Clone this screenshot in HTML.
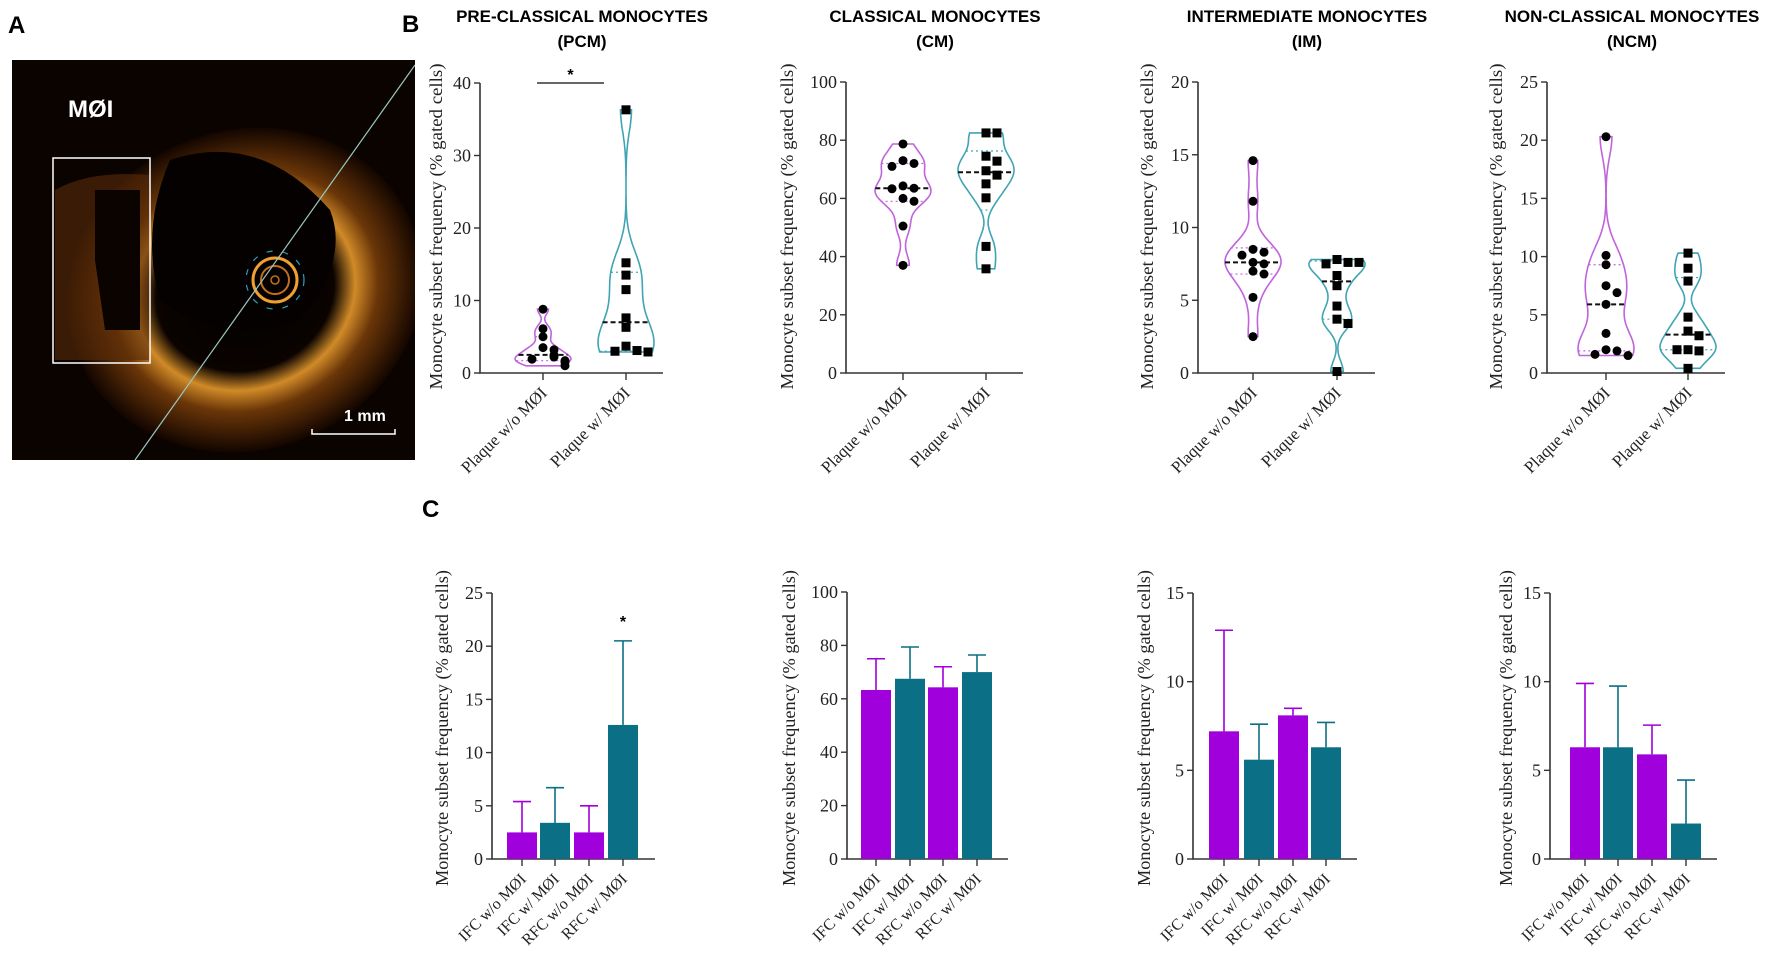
<!DOCTYPE html>
<html><head><meta charset="utf-8"><style>
html,body{margin:0;padding:0;background:#fff;}
svg{display:block;}
.lbl{font-family:"Liberation Sans",sans-serif;font-weight:bold;}
.ser{font-family:"Liberation Serif",serif;fill:#222;}
</style></head><body>
<svg id="fig" width="1772" height="956" viewBox="0 0 1772 956" xmlns="http://www.w3.org/2000/svg">
<defs>
<radialGradient id="ring" cx="0.5" cy="0.5" r="0.5">
<stop offset="0" stop-color="#000"/>
<stop offset="0.5" stop-color="#0a0300"/>
<stop offset="0.62" stop-color="#d08a28"/>
<stop offset="0.75" stop-color="#6a3608"/>
<stop offset="1" stop-color="#120500"/>
</radialGradient>
<clipPath id="clipA"><rect x="12" y="60" width="403" height="400"/></clipPath>
</defs>
<g clip-path="url(#clipA)">
<rect x="12" y="60" width="403" height="400" fill="#0a0300"/>
<ellipse cx="245" cy="290" rx="180" ry="160" fill="url(#ring)" transform="rotate(-20 245 290)"/>
<path d="M170 160 Q260 130 330 210 Q350 260 300 320 Q220 345 160 300 Q140 230 170 160Z" fill="#050100"/>
<path d="M55 190 Q90 170 150 175 L150 360 L55 360Z" fill="#5a2c08" opacity="0.6"/>
<path d="M95 190 L140 190 L140 330 L105 330 L95 260Z" fill="#0a0300"/>
<circle cx="275" cy="280" r="22" fill="none" stroke="#f0a030" stroke-width="3"/>
<circle cx="275" cy="280" r="14" fill="none" stroke="#c07020" stroke-width="2"/>
<circle cx="275" cy="280" r="4" fill="none" stroke="#c07020" stroke-width="1.5"/>
<circle cx="275" cy="280" r="29" fill="none" stroke="#2aa0c0" stroke-width="1.2" stroke-dasharray="6 10"/>
<line x1="415" y1="65" x2="135" y2="460" stroke="#9ac8c0" stroke-width="1.2"/>
<rect x="53" y="158" width="97" height="205" fill="none" stroke="#fff" stroke-width="1.5"/>
<text x="68" y="117" class="lbl" font-size="24" fill="#fff">MØI</text>
<text x="344" y="421" class="lbl" font-size="16" fill="#fff">1 mm</text>
<path d="M312 429 V434 H395 V429" fill="none" stroke="#fff" stroke-width="1.5"/>
</g>
<text x="8" y="33" class="lbl" font-size="24">A</text>
<text x="402" y="32" class="lbl" font-size="24">B</text>
<text x="422" y="517" class="lbl" font-size="24">C</text>
<g id="charts"></g>
</svg>
<script>
// ---------- data ----------
const violinCats = ["Plaque w/o MØI", "Plaque w/ MØI"];
const barCats = ["IFC w/o MØI", "IFC w/ MØI", "RFC w/o MØI", "RFC w/ MØI"];
const pcmTicks = [0, 10, 20, 30, 40];
const cmTicks = [0, 20, 40, 60, 80, 100];
const imTicks = [0, 5, 10, 15, 20];
const ncmTicks = [0, 5, 10, 15, 20, 25];
const pcmWithout = [8.8, 6.1, 5.0, 3.5, 3.2, 2.5, 2.2, 1.9, 1.7, 1.5, 1.0];
const pcmWith = [36.3, 15.2, 13.5, 11.5, 7.6, 6.3, 3.7, 3.1, 3.0, 2.9];
const cmWithout = [78.7, 73.0, 72.0, 71.0, 64.3, 63.5, 63.3, 60.0, 59.0, 50.5, 37.0];
const cmWith = [82.5, 82.5, 74.5, 72.8, 69.5, 68.0, 65.0, 60.2, 43.5, 35.8];
const imWithout = [14.6, 11.8, 8.5, 8.3, 8.1, 7.6, 7.5, 7.0, 6.8, 5.2, 2.5];
const imWith = [7.8, 7.6, 7.5, 7.6, 6.7, 6.0, 4.6, 3.7, 3.4, 0.1];
const ncmWithout = [20.3, 10.1, 9.3, 7.5, 6.9, 5.9, 3.4, 2.0, 1.9, 1.6, 1.5];
const ncmWith = [10.3, 9.0, 7.9, 4.8, 3.6, 3.2, 2.0, 1.9, 2.0, 0.4];
// [median, q1, q3] per group
const pcmStats = [[2.5, 1.7, 5.0], [7.0, 3.0, 13.9]];
const cmStats = [[63.5, 59.0, 72.0], [69.0, 56.0, 76.3]];
const imStats = [[7.6, 6.8, 8.6], [6.3, 3.7, 7.7]];
const ncmStats = [[5.9, 1.9, 9.3], [3.3, 2.0, 8.2]];
// bar chart means and SD tops
const pcmBarTicks = [0, 5, 10, 15, 20, 25];
const cmBarTicks = [0, 20, 40, 60, 80, 100];
const imBarTicks = [0, 5, 10, 15];
const ncmBarTicks = [0, 5, 10, 15];
const pcmMeans = [2.5, 3.4, 2.5, 12.6];
const pcmErrTop = [5.4, 6.7, 5.0, 20.5];
const cmMeans = [63.3, 67.5, 64.3, 70.0];
const cmErrTop = [75.0, 79.4, 72.0, 76.4];
const imMeans = [7.2, 5.6, 8.1, 6.3];
const imErrTop = [12.9, 7.6, 8.5, 7.7];
const ncmMeans = [6.3, 6.3, 5.9, 2.0];
const ncmErrTop = [9.9, 9.75, 7.55, 4.45];

// ---------- drawing ----------
const NS = "http://www.w3.org/2000/svg";
const root = document.getElementById("charts");
function mk(tag, attrs, parent) {
  const e = document.createElementNS(NS, tag);
  for (const k in attrs) e.setAttribute(k, attrs[k]);
  (parent || root).appendChild(e);
  return e;
}
const PURPLE = "#a000dc", TEAL = "#0b6f86", VPUR = "#c064dc", VTEAL = "#40a4b4";
const YTITLE = "Monocyte subset frequency (% gated cells)";

function axes(g, L, ticks, max, cats, catX, ytitleX, ytitleLen, labFs) {
  const y = v => L.y0 - (v / max) * (L.y0 - L.yTop);
  const ax = mk("path", {d: `M${L.ax} ${L.yTop} V${L.y0} H${L.xEnd}`, fill: "none", stroke: "#333", "stroke-width": 1.6}, g);
  
  
  ticks.forEach(t => {
    const tk = mk("line", {x1: L.ax - 6, x2: L.ax, y1: y(t), y2: y(t), stroke: "#333", "stroke-width": 1.4}, g);
    
    
    const tl = mk("text", {x: L.ax - 9, y: y(t) + 6, "text-anchor": "end", class: "ser", "font-size": 18}, g);
    tl.textContent = t;
    
    
  });
  cats.forEach((c, i) => {
    const x = catX(i);
    const tk = mk("line", {x1: x, x2: x, y1: L.y0, y2: L.y0 + 7, stroke: "#333", "stroke-width": 1.4}, g);
    
    
    const tl = mk("text", {x: x + 5, y: L.y0 + 21, "text-anchor": "end", class: "ser", "font-size": labFs, transform: `rotate(-45 ${x + 5} ${L.y0 + 21})`}, g);
    tl.textContent = c;
    
    
  });
  const cy = (L.tTop + L.tBot) / 2;
  const yt = mk("text", {x: ytitleX, y: cy, "text-anchor": "middle", class: "ser", "font-size": 18, textLength: ytitleLen, lengthAdjust: "spacingAndGlyphs", transform: `rotate(-90 ${ytitleX} ${cy})`}, g);
  yt.textContent = YTITLE;
  
  
  return y;
}

function violinChart(L, title1, title2, ticks, max, groups, stats, sig) {
  const g = mk("g", {});
  
  
  const t1 = mk("text", {x: L.tc, y: 22, "text-anchor": "middle", class: "lbl", "font-size": 17}, g);
  t1.textContent = title1;
  
  
  const t2 = mk("text", {x: L.tc, y: 47, "text-anchor": "middle", class: "lbl", "font-size": 17}, g);
  t2.textContent = title2;
  
  
  const catX = i => L.cx[i];
  const y = axes(g, L, ticks, max, violinCats, catX, L.ytx, 326, 17);
  groups.forEach((vals, gi) => {
    const cx = catX(gi), col = gi === 0 ? VPUR : VTEAL;
    const mn = Math.min(...vals), mx = Math.max(...vals);
    const h = Math.max((mx - mn) * 0.09, max * 0.01);
    const N = 60, dens = [];
    for (let k = 0; k <= N; k++) {
      const v = mn + (mx - mn) * k / N;
      let d = 0;
      vals.forEach(p => { d += Math.exp(-0.5 * ((v - p) / h) ** 2); });
      dens.push([v, d]);
    }
    const dm = Math.max(...dens.map(d => d[1]));
    const hw = 28;
    let right = dens.map(([v, d]) => `${(cx + hw * d / dm).toFixed(1)} ${y(v).toFixed(1)}`);
    let left = dens.slice().reverse().map(([v, d]) => `${(cx - hw * d / dm).toFixed(1)} ${y(v).toFixed(1)}`);
    const vp = mk("path", {d: "M" + right.join(" L") + " L" + left.join(" L") + "Z", fill: "none", stroke: col, "stroke-width": 1.6}, g);
    
    
    const halfAt = v => { let best = dens[0]; dens.forEach(d => { if (Math.abs(d[0] - v) < Math.abs(best[0] - v)) best = d; }); return hw * best[1] / dm; };
    stats[gi].forEach((s, si) => {
      const w = halfAt(s);
      const ln = mk("line", {x1: cx - w, x2: cx + w, y1: y(s), y2: y(s), stroke: si === 0 ? "#111" : col, "stroke-width": si === 0 ? 2 : 1.2, "stroke-dasharray": si === 0 ? "5 3" : "2 3"}, g);
      
      
    });
    const placed = [];
    vals.forEach(v => {
      const near = placed.filter(p => Math.abs(p - v) < max * 0.025).length;
      placed.push(v);
      const off = near === 0 ? 0 : (near % 2 ? 1 : -1) * Math.ceil(near / 2) * 11;
      let m;
      if (gi === 0) m = mk("circle", {cx: cx + off, cy: y(v), r: 4.5, fill: "#000"}, g);
      else m = mk("rect", {x: cx + off - 4.5, y: y(v) - 4.5, width: 9, height: 9, fill: "#000"}, g);
      
      
    });
  });
  if (sig) {
    const sl = mk("line", {x1: L.cx[0] - 6, x2: L.cx[1] - 22, y1: y(max), y2: y(max), stroke: "#333", "stroke-width": 1.4}, g);
    
    
    const st = mk("text", {x: (L.cx[0] + L.cx[1]) / 2 - 14, y: y(max) - 3, "text-anchor": "middle", class: "lbl", "font-size": 16}, g);
    st.textContent = "*";
    
    
  }
}

function barChart(L, ticks, max, means, tops, starIdx) {
  const g = mk("g", {});
  
  
  const catX = i => L.cx[i];
  const y = axes(g, L, ticks, max, barCats, catX, L.ytx, 316, 16);
  means.forEach((m, i) => {
    const col = i % 2 === 0 ? PURPLE : TEAL;
    const x = catX(i);
    const e = mk("path", {d: `M${x} ${y(m)} V${y(tops[i])} M${x - 9} ${y(tops[i])} H${x + 9}`, stroke: col, "stroke-width": 1.6, fill: "none"}, g);
    
    
    const b = mk("rect", {x: x - 15, y: y(m), width: 30, height: L.y0 - y(m), fill: col}, g);
    
    
  });
  if (starIdx != null) {
    const st = mk("text", {x: catX(starIdx), y: y(tops[starIdx]) - 14, "text-anchor": "middle", class: "lbl", "font-size": 16}, g);
    st.textContent = "*";
    
    
  }
}

violinChart({ax: 480, xEnd: 663, yTop: 83, y0: 373, cx: [543, 626], tc: 582, ytx: 442, tTop: 63, tBot: 390}, "PRE-CLASSICAL MONOCYTES", "(PCM)", pcmTicks, 40, [pcmWithout, pcmWith], pcmStats, true);
violinChart({ax: 846, xEnd: 1023, yTop: 82, y0: 373, cx: [903, 986], tc: 935, ytx: 793, tTop: 63, tBot: 390}, "CLASSICAL MONOCYTES", "(CM)", cmTicks, 100, [cmWithout, cmWith], cmStats, false);
violinChart({ax: 1198, xEnd: 1375, yTop: 82, y0: 373, cx: [1253, 1337], tc: 1307, ytx: 1153, tTop: 63, tBot: 390}, "INTERMEDIATE MONOCYTES", "(IM)", imTicks, 20, [imWithout, imWith], imStats, false);
violinChart({ax: 1547, xEnd: 1725, yTop: 82, y0: 373, cx: [1606, 1688], tc: 1632, ytx: 1502, tTop: 63, tBot: 390}, "NON-CLASSICAL MONOCYTES", "(NCM)", ncmTicks, 25, [ncmWithout, ncmWith], ncmStats, false);

barChart({ax: 492, xEnd: 655, yTop: 593, y0: 859, cx: [522, 555, 589, 623], ytx: 448, tTop: 570, tBot: 886}, pcmBarTicks, 25, pcmMeans, pcmErrTop, 3);
barChart({ax: 847, xEnd: 1008, yTop: 592, y0: 859, cx: [876, 910, 943, 977], ytx: 795, tTop: 570, tBot: 886}, cmBarTicks, 100, cmMeans, cmErrTop, null);
barChart({ax: 1193, xEnd: 1357, yTop: 593, y0: 859, cx: [1224, 1259, 1293, 1326], ytx: 1150, tTop: 570, tBot: 886}, imBarTicks, 15, imMeans, imErrTop, null);
barChart({ax: 1550, xEnd: 1717, yTop: 593, y0: 859, cx: [1585, 1618, 1652, 1686], ytx: 1512, tTop: 570, tBot: 886}, ncmBarTicks, 15, ncmMeans, ncmErrTop, null);
</script>
</body></html>
